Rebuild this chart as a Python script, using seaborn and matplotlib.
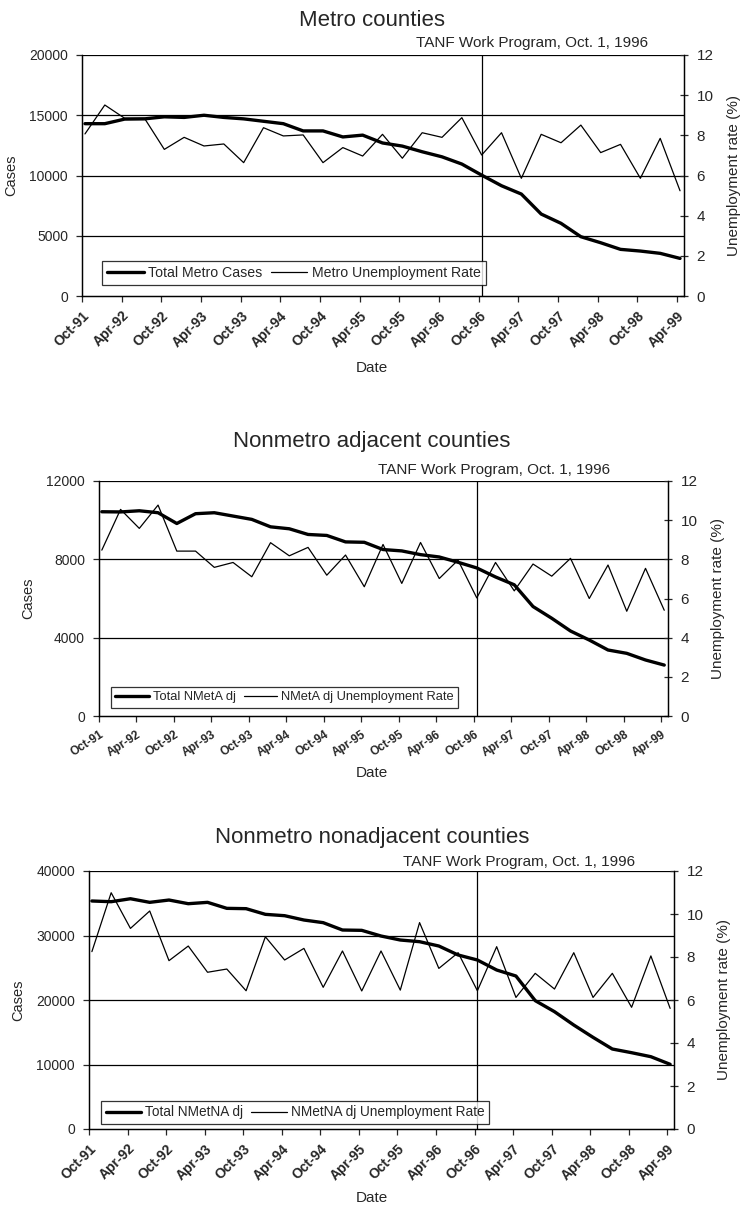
import numpy as np
import matplotlib
matplotlib.use("Agg")
import matplotlib.pyplot as plt
import seaborn as sns

sns.set_style("white")
plt.rcParams["font.family"] = ["Liberation Sans", "DejaVu Sans"]

tick_labels = ["Oct-91", "Apr-92", "Oct-92", "Apr-93", "Oct-93", "Apr-94", "Oct-94", "Apr-95",
               "Oct-95", "Apr-96", "Oct-96", "Apr-97", "Oct-97", "Apr-98", "Oct-98", "Apr-99"]

metro_cases = [14300, 14300, 14680, 14700, 14870, 14820, 15000, 14820, 14700, 14500, 14300,
               13700, 13700, 13200, 13350, 12700, 12440, 11970, 11550, 10950, 10030, 9150,
               8460, 6800, 6030, 4920, 4420, 3870, 3730, 3540, 3120]
metro_rate = [8.07, 9.51, 8.85, 8.85, 7.30, 7.90, 7.47, 7.57, 6.64, 8.38, 7.97, 8.02, 6.64,
              7.39, 6.97, 8.05, 6.86, 8.13, 7.90, 8.88, 7.02, 8.13, 5.86, 8.05, 7.63, 8.51,
              7.14, 7.55, 5.86, 7.85, 5.24]

nmetadj_cases = [10430, 10420, 10480, 10380, 9830, 10330, 10380, 10210, 10040, 9660, 9560,
                 9270, 9220, 8890, 8870, 8500, 8430, 8240, 8120, 7850, 7560, 7100, 6700,
                 5590, 4990, 4340, 3880, 3370, 3200, 2860, 2600]
nmetadj_rate = [8.47, 10.55, 9.58, 10.77, 8.42, 8.42, 7.59, 7.84, 7.11, 8.85, 8.18, 8.61,
                7.19, 8.22, 6.60, 8.76, 6.77, 8.86, 7.02, 7.96, 6.03, 7.84, 6.39, 7.76, 7.14,
                8.05, 6.00, 7.71, 5.35, 7.54, 5.40]

nmetnadj_cases = [35350, 35240, 35700, 35140, 35500, 34930, 35140, 34210, 34160, 33280, 33070,
                  32400, 31990, 30850, 30800, 29920, 29300, 29040, 28370, 26980, 26200, 24650,
                  23720, 19900, 18190, 16120, 14210, 12400, 11830, 11210, 10030]
nmetnadj_rate = [8.25, 10.99, 9.33, 10.14, 7.83, 8.51, 7.29, 7.44, 6.43, 8.94, 7.86, 8.40,
                 6.59, 8.28, 6.42, 8.28, 6.46, 9.60, 7.47, 8.20, 6.43, 8.48, 6.12, 7.24, 6.51,
                 8.20, 6.12, 7.24, 5.66, 8.05, 5.61]

# quarterly points, one label every second quarter
x = np.arange(len(metro_cases)) + 0.15
tanf_x = 20.15

fig = plt.figure(figsize=(7.44, 12.11), dpi=100)


def draw_panel(rect, cases, rate, ymax, ystep, title, title_y, tanf_pos, date_y,
               leg_names, leg_anchor, xfs, xrot, legfs):
    ax = fig.add_axes(rect)
    ax2 = ax.twinx()
    sns.lineplot(x=x, y=cases, ax=ax, color="black", linewidth=2.4, label=leg_names[0],
                 legend=False)
    sns.lineplot(x=x, y=rate, ax=ax2, color="black", linewidth=0.9, label=leg_names[1],
                 legend=False)
    ax.set_ylim(0, ymax)
    ax.set_yticks(np.arange(0, ymax + 1, ystep))
    ax2.set_ylim(0, 12)
    ax2.set_yticks(np.arange(0, 13, 2))
    ax.set_xlim(0, 30.35)
    ax.set_xticks(np.arange(0, 31, 2))
    ax.set_xticklabels(tick_labels, rotation=xrot, ha="right", rotation_mode="anchor",
                       fontweight="bold", fontsize=xfs)
    for t in np.arange(ystep, ymax + 1, ystep):
        ax.axhline(t, color="black", linewidth=0.9, zorder=1)
    ax.axvline(tanf_x, color="black", linewidth=0.9)
    for a in (ax, ax2):
        for s in a.spines.values():
            s.set_color("black")
            s.set_linewidth(0.9)
        a.spines["top"].set_visible(False)
    ax.tick_params(axis="x", direction="out", length=4, width=0.9, bottom=True, pad=5)
    ax.tick_params(axis="y", direction="out", length=4, width=0.9, left=True,
                   labelsize=10, pad=6)
    ax2.tick_params(axis="y", direction="inout", length=6, width=0.9, right=True,
                    labelsize=11, pad=6)
    ax.set_ylabel("Cases", fontsize=10.5, labelpad=8)
    ax2.set_ylabel("Unemployment rate (%)", fontsize=11, labelpad=10)
    ax.set_xlabel("")
    fig.text(0.5, date_y, "Date", ha="center", va="center", fontsize=11)
    fig.text(0.5, title_y, title, ha="center", va="center", fontsize=16)
    fig.text(tanf_pos[0], tanf_pos[1], "TANF Work Program, Oct. 1, 1996", ha="center",
             va="center", fontsize=11)
    h1, l1 = ax.get_legend_handles_labels()
    h2, l2 = ax2.get_legend_handles_labels()
    leg = ax2.legend(h1 + h2, l1 + l2, ncol=2, loc="lower left", bbox_to_anchor=leg_anchor,
                     frameon=True, fancybox=False, edgecolor="black", fontsize=legfs,
                     handlelength=2.6, columnspacing=0.6, handletextpad=0.3,
                     borderpad=0.35, borderaxespad=0)
    leg.get_frame().set_linewidth(0.9)
    return ax, ax2


W, H = 744, 1211


def rect(l, r, t, b):
    return [l / W, 1 - b / H, (r - l) / W, (b - t) / H]


draw_panel(rect(82, 684, 55, 296), metro_cases, metro_rate, 20000, 5000,
           "Metro counties", 1 - 20 / H, (532 / W, 1 - 43 / H), 1 - 368 / H,
           ["Total Metro Cases", "Metro Unemployment Rate"], (0.033, 0.046), 10, 45, 10.2)
draw_panel(rect(99, 668, 481, 716), nmetadj_cases, nmetadj_rate, 12000, 4000,
           "Nonmetro adjacent counties", 1 - 442 / H, (494 / W, 1 - 470 / H), 1 - 773 / H,
           ["Total NMetA dj", "NMetA dj Unemployment Rate"], (0.021, 0.034), 8.5, 33, 9.3)
draw_panel(rect(89, 674, 871, 1129), nmetnadj_cases, nmetnadj_rate, 40000, 10000,
           "Nonmetro nonadjacent counties", 1 - 838 / H, (519 / W, 1 - 862 / H), 1 - 1198 / H,
           ["Total NMetNA dj", "NMetNA dj Unemployment Rate"], (0.0205, 0.019), 10, 45, 9.8)

fig.savefig("out.png", dpi=100, facecolor="white")
